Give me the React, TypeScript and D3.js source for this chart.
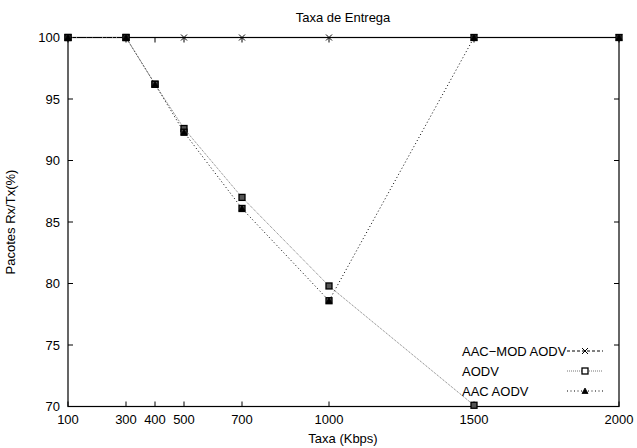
import React from "react";
import * as d3 from "d3";

const xTicks = [100, 300, 400, 500, 700, 1000, 1500, 2000];
const yTicks = [70, 75, 80, 85, 90, 95, 100];

const aacModX = [100, 300, 500, 700, 1000, 1500, 2000];
const aacModY = [100, 100, 100, 100, 100, 100, 100];

const aodvX = [100, 300, 400, 500, 700, 1000, 1500];
const aodvY = [100, 100, 96.2, 92.6, 87.0, 79.8, 70.1];

const aacX = [100, 300, 400, 500, 700, 1000, 1500, 2000];
const aacY = [100, 100, 96.2, 92.3, 86.1, 78.6, 100, 100];

const seriesNames = ["AAC\u2212MOD AODV", "AODV", "AAC AODV"];

const W = 637, H = 448;
const L = 68, R = 619, T = 37.5, B = 406.5;
const FONT = "'Liberation Sans', Arial, Helvetica, sans-serif";

export default function App() {
  const x = d3.scaleLinear().domain([100, 2000]).range([L, R]);
  const y = d3.scaleLinear().domain([70, 100]).range([B, T]);
  const line = d3.line<[number, number]>().x(d => x(d[0])).y(d => y(d[1]));
  const zip = (a: number[], b: number[]) => a.map((v, i) => [v, b[i]] as [number, number]);

  const s1 = zip(aacModX, aacModY);
  const s2 = zip(aodvX, aodvY);
  const s3 = zip(aacX, aacY);

  const styles = [
    { stroke: "#000", dash: "3,2" },
    { stroke: "#777", dash: "1,1" },
    { stroke: "#000", dash: "1,2.5" },
  ];

  const xMark = (cx: number, cy: number, k: string) => (
    <g key={k} stroke="#000" strokeWidth={1}>
      <line x1={cx - 3} y1={cy - 3} x2={cx + 3} y2={cy + 3} />
      <line x1={cx - 3} y1={cy + 3} x2={cx + 3} y2={cy - 3} />
    </g>
  );
  const sqMark = (cx: number, cy: number, k: string, legend = false) => (
    <rect key={k} x={cx - 3} y={cy - 3} width={6} height={6} fill={legend ? "#fff" : "#555"} stroke="#000" strokeWidth={1.3} />
  );
  const triMark = (cx: number, cy: number, k: string) => (
    <path key={k} d={`M${cx},${cy - 3}L${cx + 3},${cy + 2.5}L${cx - 3},${cy + 2.5}Z`} fill="#000" stroke="#000" strokeWidth={0.8} />
  );

  const legendY = [351, 371, 391];

  return (
    <svg width={W} height={H} style={{ position: "absolute", left: 0, top: 0, background: "#fff" }} fontFamily={FONT}>
      <rect x={0} y={0} width={W} height={H} fill="#fff" />
      <rect x={L} y={T} width={R - L} height={B - T} fill="none" stroke="#000" strokeWidth={1.2} />
      {xTicks.map(t => (
        <g key={"xt" + t}>
          <line x1={x(t)} x2={x(t)} y1={B} y2={B - 5} stroke="#000" />
          <line x1={x(t)} x2={x(t)} y1={T} y2={T + 5} stroke="#000" />
          <text x={x(t)} y={424} fontSize={13} textAnchor="middle">{t}</text>
        </g>
      ))}
      {yTicks.map(t => (
        <g key={"yt" + t}>
          <line x1={L} x2={L + 5} y1={y(t)} y2={y(t)} stroke="#000" />
          <line x1={R} x2={R - 5} y1={y(t)} y2={y(t)} stroke="#000" />
          <text x={60} y={y(t) + 4.5} fontSize={13} textAnchor="end">{t}</text>
        </g>
      ))}
      <path d={line(s2) || ""} fill="none" stroke={styles[1].stroke} strokeDasharray={styles[1].dash} strokeWidth={1} />
      <path d={line(s3) || ""} fill="none" stroke={styles[2].stroke} strokeDasharray={styles[2].dash} strokeWidth={1} />
      <path d={line(s1) || ""} fill="none" stroke={styles[0].stroke} strokeDasharray={styles[0].dash} strokeWidth={1} />
      {s2.map((d, i) => sqMark(x(d[0]), y(d[1]), "m2" + i))}
      {s3.map((d, i) => sqMark(x(d[0]), y(d[1]), "m3s" + i))}
      {s3.map((d, i) => triMark(x(d[0]), y(d[1]), "m3" + i))}
      {s1.map((d, i) => xMark(x(d[0]), y(d[1]), "m1" + i))}
      {seriesNames.map((n, i) => (
        <g key={"lg" + i}>
          <text x={462} y={legendY[i] + 4.5} fontSize={13}>{n}</text>
          <line x1={567} x2={603} y1={legendY[i]} y2={legendY[i]} stroke={styles[i].stroke} strokeDasharray={styles[i].dash} />
          {i === 0 ? xMark(585, legendY[i], "lm0") : i === 1 ? sqMark(585, legendY[i], "lm1", true) : triMark(585, legendY[i], "lm2")}
        </g>
      ))}
      <text x={343} y={22} fontSize={13} textAnchor="middle">Taxa de Entrega</text>
      <text x={343} y={443} fontSize={13} textAnchor="middle">Taxa (Kbps)</text>
      <text transform={`translate(15,${(T + B) / 2}) rotate(-90)`} fontSize={13} textAnchor="middle">Pacotes Rx/Tx(%)</text>
    </svg>
  );
}
